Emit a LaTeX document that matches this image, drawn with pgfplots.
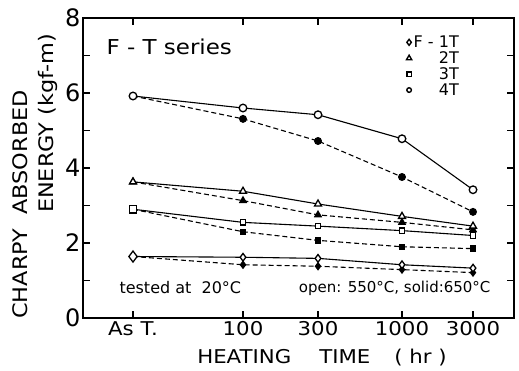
\documentclass[border=0pt]{standalone}
\usepackage{fontspec}
\setmainfont{DejaVu Sans}
\newfontfamily\widefont{DejaVu Sans}[FakeStretch=1.12]
\usepackage{pgfplots}
\pgfplotsset{compat=1.18}
\begin{document}
\begin{tikzpicture}
\begin{axis}[name=ax, width=431pt, height=300pt, scale only axis,
  xmin=83, xmax=514, ymin=0, ymax=8, clip=false,
  xtick={133,243,318,402,473}, xticklabels={As T., 100, 300, 1000, 3000},
  ytick={0,2,4,6,8}, minor ytick={1,3,5,7},
  tick align=inside, major tick length=7pt, minor tick length=7pt,
  axis line style={line width=1.5pt}, tick style={line width=1.1pt, black},
  /pgf/number format/assume math mode=true,
  yticklabel style={font=\fontsize{24}{24}\selectfont, xshift=1pt},
  xticklabel style={font=\widefont\fontsize{19}{19}\selectfont},
  legend style={at={(axis cs:464,7.62)}, anchor=north east, draw=none, fill=none,
    font=\fontsize{16}{16}\selectfont, row sep=0pt,
    nodes={inner ysep=1.3pt}},
  legend cell align=right,
]
\addlegendimage{only marks, mark=diamond, mark size=3pt, line width=1.4pt, mark options={fill=white}}
\addlegendentry{F - 1T}
\addlegendimage{only marks, mark=triangle*, mark size=3pt, line width=1.4pt, mark options={fill=white}}
\addlegendentry{2T}
\addlegendimage{only marks, mark=square, mark size=2.3pt, line width=1.4pt, mark options={fill=white}}
\addlegendentry{3T}
\addlegendimage{only marks, mark=o, mark size=2.3pt, line width=1.4pt, mark options={fill=white}}
\addlegendentry{4T}

% dashed (solid marks, 650C)
\addplot[forget plot, black, line width=1.1pt, dash pattern=on 5pt off 3pt, mark=*, mark size=3.4pt, mark options={solid}] coordinates {(133,5.92) (243,5.31) (318,4.72) (402,3.76) (473,2.83)};
\addplot[forget plot, black, line width=1.1pt, dash pattern=on 5pt off 3pt, mark=triangle*, mark size=3.8pt, mark options={solid}] coordinates {(133,3.63) (243,3.13) (318,2.75) (402,2.55) (473,2.35)};
\addplot[forget plot, black, line width=1.1pt, dash pattern=on 5pt off 3pt, mark=square*, mark size=2.6pt, mark options={solid}] coordinates {(133,2.9) (243,2.3) (318,2.07) (402,1.9) (473,1.85)};
\addplot[forget plot, black, line width=1.1pt, dash pattern=on 5pt off 3pt, mark=diamond*, mark size=3.5pt, mark options={solid}] coordinates {(133,1.64) (243,1.42) (318,1.38) (402,1.29) (473,1.21)};
% solid (open marks, 550C)
\addplot[forget plot, black, line width=1.1pt, mark=*, mark size=3.8pt, mark options={fill=white, line width=1.3pt}] coordinates {(133,5.92) (243,5.6) (318,5.42) (402,4.78) (473,3.42)};
\addplot[forget plot, black, line width=1.1pt, mark=triangle*, mark size=4pt, mark options={fill=white, line width=1.3pt}] coordinates {(133,3.63) (243,3.38) (318,3.04) (402,2.71) (473,2.45)};
\addplot[forget plot, black, line width=1.1pt, mark=square*, mark size=2.7pt, mark options={fill=white, line width=1.3pt}] coordinates {(243,2.55) (318,2.45) (402,2.33) (473,2.2)};
\addplot[forget plot, black, line width=1.1pt] coordinates {(133,2.9) (243,2.55)};
\addplot[forget plot, only marks, black, mark=square*, mark size=3.6pt, mark options={fill=white, line width=1.3pt}] coordinates {(133,2.9)};
\addplot[forget plot, black, line width=1.1pt, mark=diamond*, mark size=3.8pt, mark options={fill=white, line width=1.3pt}] coordinates {(243,1.62) (318,1.59) (402,1.42) (473,1.33)};
\addplot[forget plot, black, line width=1.1pt] coordinates {(133,1.64) (243,1.62)};
\addplot[forget plot, only marks, black, mark=diamond*, mark size=5.5pt, mark options={fill=white, line width=1.3pt}] coordinates {(133,1.64)};

\node[anchor=west, font=\widefont\fontsize{20.5}{20.5}\selectfont] at (axis cs:103,7.23) {F - T series};
\node[anchor=west, font=\fontsize{16}{16}\selectfont] at (axis cs:116,0.8) {tested\ at\ \ 20°C};
\node[anchor=east, font=\fontsize{15}{15}\selectfont] at (axis cs:494,0.8) {open: 550°C, solid:650°C};
\node[font=\widefont\fontsize{19}{19}\selectfont] at (axis cs:322,-1.05) {HEATING\hspace{28pt}TIME\hspace{24pt}( hr )};
\end{axis}
\node[rotate=90, anchor=base, font=\widefont\fontsize{20}{20}\selectfont] at ([xshift=-55pt,yshift=-186.5pt]ax.north west) {CHARPY\hspace{14pt}ABSORBED};
\node[rotate=90, anchor=base, font=\widefont\fontsize{20}{20}\selectfont] at ([xshift=-30pt,yshift=-105.5pt]ax.north west) {ENERGY (kgf-m)};
\pgfresetboundingbox
\path ([xshift=-83pt,yshift=-52pt]ax.south west) rectangle ([xshift=5pt,yshift=18pt]ax.north east);
\end{tikzpicture}
\end{document}
